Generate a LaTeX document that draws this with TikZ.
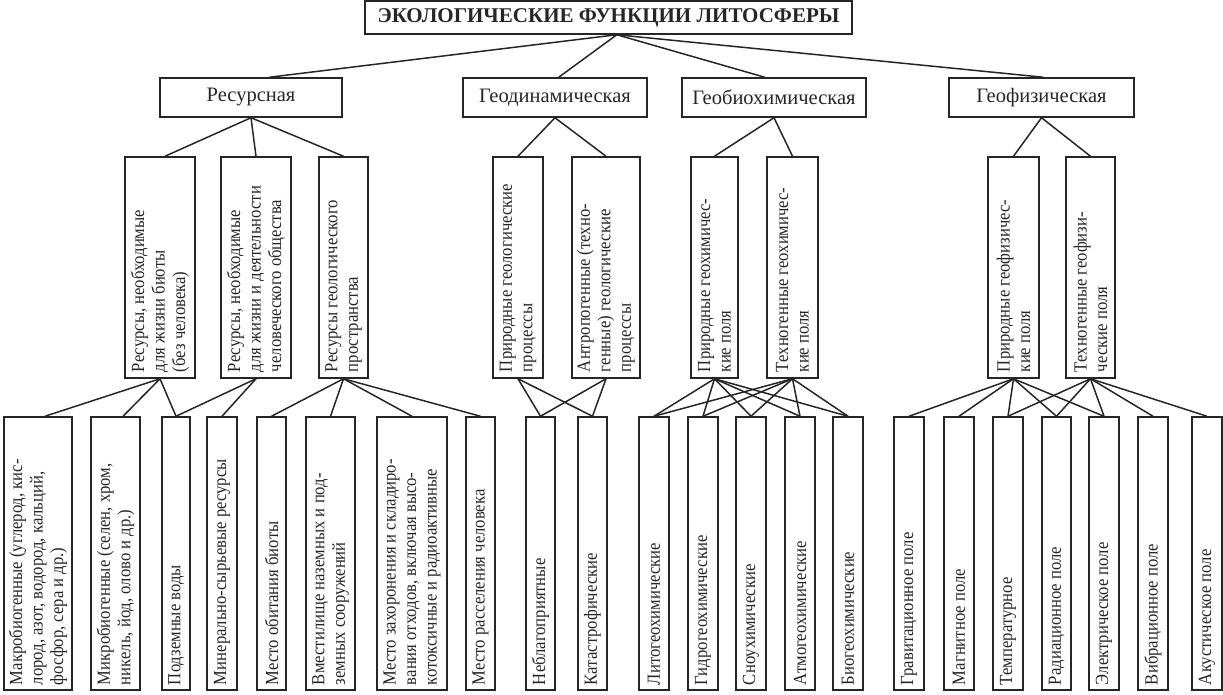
\documentclass[tikz,border=0pt]{standalone}
\usepackage{fontspec}
\setmainfont{Liberation Serif}
\newfontfamily\narrowf[FakeStretch=0.9]{Liberation Serif}
\usepackage{graphicx}
\usetikzlibrary{calc}
\newcommand\vtx[2]{\rotatebox{90}{\parbox{#1}{\raggedright #2}}}
\begin{document}
\begin{tikzpicture}[x=1pt,y=-1pt,
  box/.style={draw=black!85, line width=1.5pt, inner sep=0pt, rectangle, text=black!85},
  conn/.style={draw=black!85, line width=1.5pt},
  ttl/.style={box, font=\bfseries\fontsize{21}{24}\selectfont},
  mid/.style={box, font=\fontsize{20.5}{24}\selectfont, minimum height=39},
  lvb/.style={box, font=\narrowf\fontsize{18.5}{20.5}\selectfont, minimum height=221},
  leaf/.style={box, font=\narrowf\fontsize{18.5}{20.5}\selectfont, minimum height=273},
]
\useasboundingbox (0,0) rectangle (1223,695);
% title
\node[ttl, minimum width=487, minimum height=33] (T) at (608.5,17.5) {ЭКОЛОГИЧЕСКИЕ ФУНКЦИИ ЛИТОСФЕРЫ};
\coordinate (tb) at ($(T.south west)!0.517!(T.south east)$);
% level 2
\node[mid, minimum width=182] (res) at (251,97.5) {Ресурсная};
\node[mid, minimum width=184] (gdn) at (555,97.5) {Геодинамическая};
\node[mid, minimum width=184] (gbh) at (774,97.5) {Геобиохимическая};
\node[mid, minimum width=185] (gph) at (1041.5,97.5) {Геофизическая};
% level 3
\node[lvb, minimum width=70] (r1) at (160,267.5) {\vtx{209pt}{Ресурсы, необходимые\\для жизни биоты\\(без человека)}};
\node[lvb, minimum width=70] (r2) at (256,267.5) {\vtx{209pt}{Ресурсы, необходимые\\для жизни и деятельности\\человеческого общества}};
\node[lvb, minimum width=49] (r3) at (343.5,267.5) {\vtx{209pt}{Ресурсы геологического\\пространства}};
\node[lvb, minimum width=50] (g1) at (518,267.5) {\vtx{209pt}{Природные геологические\\процессы}};
\node[lvb, minimum width=68] (g2) at (606,267.5) {\vtx{209pt}{Антропогенные (техно-\\генные) геологические\\процессы}};
\node[lvb, minimum width=47] (b1) at (714.5,267.5) {\vtx{209pt}{Природные геохимичес-\\кие поля}};
\node[lvb, minimum width=51] (b2) at (792.5,267.5) {\vtx{209pt}{Техногенные геохимичес-\\кие поля}};
\node[lvb, minimum width=51] (p1) at (1013.5,267.5) {\vtx{209pt}{Природные геофизичес-\\кие поля}};
\node[lvb, minimum width=49] (p2) at (1090.5,267.5) {\vtx{209pt}{Техногенные геофизи-\\ческие поля}};
% leaves
\node[leaf, minimum width=68] (l1) at (38,553.5) {\vtx{263pt}{Макробиогенные (углерод, кис-\\лород, азот, водород, кальций,\\фосфор, сера и др.)}};
\node[leaf, minimum width=49] (l2) at (115.5,553.5) {\vtx{263pt}{Микробиогенные (селен, хром,\\никель, йод, олово и др.)}};
\node[leaf, minimum width=28] (l3) at (176,553.5) {\vtx{263pt}{Подземные воды}};
\node[leaf, minimum width=30] (l4) at (222,553.5) {\vtx{263pt}{Минерально-сырьевые ресурсы}};
\node[leaf, minimum width=29] (l5) at (271.5,553.5) {\vtx{263pt}{Место обитания биоты}};
\node[leaf, minimum width=49] (l6) at (330.5,553.5) {\vtx{263pt}{Вместилище наземных и под-\\земных сооружений}};
\node[leaf, minimum width=70] (l7) at (412,553.5) {\vtx{263pt}{Место захоронения и складиро-\\вания отходов, включая высо-\\котоксичные и радиоактивные}};
\node[leaf, minimum width=29] (l8) at (480.5,553.5) {\vtx{263pt}{Место расселения человека}};
\node[leaf, minimum width=29] (l9) at (540.5,553.5) {\vtx{263pt}{Неблагоприятные}};
\node[leaf, minimum width=29] (l10) at (592.5,553.5) {\vtx{263pt}{Катастрофические}};
\node[leaf, minimum width=30] (l11) at (654,553.5) {\vtx{263pt}{Литогеохимические}};
\node[leaf, minimum width=30] (l12) at (703,553.5) {\vtx{263pt}{Гидрогеохимические}};
\node[leaf, minimum width=30] (l13) at (751,553.5) {\vtx{263pt}{Сноухимические}};
\node[leaf, minimum width=30] (l14) at (800,553.5) {\vtx{263pt}{Атмогеохимические}};
\node[leaf, minimum width=30] (l15) at (848,553.5) {\vtx{263pt}{Биогеохимические}};
\node[leaf, minimum width=30] (l16) at (909,553.5) {\vtx{263pt}{Гравитационное поле}};
\node[leaf, minimum width=30] (l17) at (959,553.5) {\vtx{263pt}{Магнитное поле}};
\node[leaf, minimum width=30] (l18) at (1008,553.5) {\vtx{263pt}{Температурное}};
\node[leaf, minimum width=29] (l19) at (1056.5,553.5) {\vtx{263pt}{Радиационное поле}};
\node[leaf, minimum width=30] (l20) at (1104,553.5) {\vtx{263pt}{Электрическое поле}};
\node[leaf, minimum width=30] (l21) at (1153,553.5) {\vtx{263pt}{Вибрационное поле}};
\node[leaf, minimum width=30] (l22) at (1207,553.5) {\vtx{263pt}{Акустическое поле}};
% connectors: title to level 2
\draw[conn] (tb) -- ($(res.north west)!0.6!(res.north east)$);
\draw[conn] (tb) -- ($(gdn.north west)!0.52!(gdn.north east)$);
\draw[conn] (tb) -- ($(gbh.north west)!0.45!(gbh.north east)$);
\draw[conn] (tb) -- ($(gph.north west)!0.51!(gph.north east)$);
% level 2 to level 3
\draw[conn] (res.south) -- ($(r1.north west)!0.57!(r1.north east)$);
\draw[conn] (res.south) -- (r2.north);
\draw[conn] (res.south) -- (r3.north);
\draw[conn] (gdn.south) -- (g1.north);
\draw[conn] (gdn.south) -- (g2.north);
\draw[conn] (gbh.south) -- (b1.north);
\draw[conn] (gbh.south) -- (b2.north);
\draw[conn] (gph.south) -- (p1.north);
\draw[conn] (gph.south) -- (p2.north);
% level 3 to leaves
\draw[conn] (r1.south) -- ($(l1.north west)!0.6!(l1.north east)$);
\draw[conn] (r1.south) -- ($(l2.north west)!0.65!(l2.north east)$);
\draw[conn] (r1.south) -- (l3.north);
\draw[conn] (r2.south) -- (l3.north);
\draw[conn] (r2.south) -- (l4.north);
\foreach \k in {l5,l6,l7,l8} \draw[conn] (r3.south) -- (\k.north);
\foreach \k in {l9,l10} {\draw[conn] (g1.south) -- (\k.north); \draw[conn] (g2.south) -- (\k.north);}
\foreach \k in {l11,l12,l13,l14,l15} {\draw[conn] (b1.south) -- (\k.north); \draw[conn] (b2.south) -- (\k.north);}
\foreach \k in {l16,l17,l18,l19,l20} \draw[conn] (p1.south) -- (\k.north);
\foreach \k in {l18,l19,l20,l21,l22} \draw[conn] (p2.south) -- (\k.north);
\end{tikzpicture}
\end{document}
